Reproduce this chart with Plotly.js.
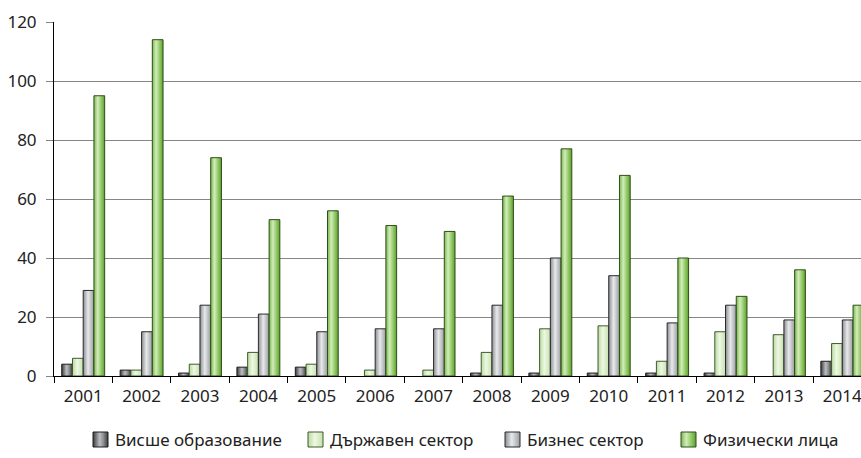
<!DOCTYPE html>
<html>
<head>
<meta charset="utf-8">
<script src="https://cdn.plot.ly/plotly-3.0.1.min.js"></script>
<style>
  html, body { margin: 0; padding: 0; background: #ffffff; }
  #chart { width: 861px; height: 458px; }
</style>
</head>
<body>
<div id="chart"></div>
<script>
// Years on the category axis
const years = ['2001', '2002', '2003', '2004', '2005', '2006', '2007',
               '2008', '2009', '2010', '2011', '2012', '2013', '2014'];

// Series names (legend)
const seriesNames = ['Висше образование', 'Държавен сектор', 'Бизнес сектор', 'Физически лица'];

// Values per series
const higherEducation = [4, 2, 1, 3, 3, 0, 0, 1, 1, 1, 1, 1, 0, 5];
const governmentSector = [6, 2, 4, 8, 4, 2, 2, 8, 16, 17, 5, 15, 14, 11];
const businessSector = [29, 15, 24, 21, 15, 16, 16, 24, 40, 34, 18, 24, 19, 19];
const individuals = [95, 114, 74, 53, 56, 51, 49, 61, 77, 68, 40, 27, 36, 24];

const seriesValues = [higherEducation, governmentSector, businessSector, individuals];

// Base fill (fallback) and outline colours per series
const fills = ['#8a8b8e', '#d8ecc6', '#c6c8cc', '#92c865'];
const outlines = ['#1e1e1e', '#3f5a2e', '#2a2a2a', '#2f4f1a'];

// Horizontal shading stops giving each bar a rounded, cylindrical look
const shading = [
  [[0, '#3c3c3e'], [0.45, '#bdbec1'], [0.7, '#8d8e91'], [1, '#3a3a3c']],
  [[0, '#b9dba0'], [0.45, '#eef7e4'], [1, '#c4e2ac']],
  [[0, '#8c8e92'], [0.45, '#e8e9eb'], [1, '#9a9ca0']],
  [[0, '#78b84a'], [0.35, '#d2ecbb'], [0.75, '#86c257'], [1, '#5f9d33']]
];

// Plot-area geometry in pixels, used to place the legend
const W = 861, H = 458;
const M = { l: 54, r: 0, t: 22, b: 82 };
const plotW = W - M.l - M.r, plotH = H - M.t - M.b;
const px2x = p => (p - M.l) / plotW;
const px2y = p => (H - M.b - p) / plotH;

// Legend swatch left edges (px) and vertical band
const legendLeft = [93, 308, 505, 681];
const swatchSize = 15;
const legendTop = 432;

const traces = seriesValues.map((vals, i) => ({
  type: 'bar',
  name: seriesNames[i],
  x: years,
  y: vals,
  marker: {
    color: fills[i],
    // no outline on empty (zero) bars
    line: { color: outlines[i], width: vals.map(v => (v === 0 ? 0 : 1)) }
  },
  hoverinfo: 'x+y+name'
}));

const shapes = legendLeft.map((lx, i) => ({
  type: 'rect',
  xref: 'paper', yref: 'paper',
  x0: px2x(lx), x1: px2x(lx + swatchSize),
  y0: px2y(legendTop + swatchSize), y1: px2y(legendTop),
  fillcolor: fills[i],
  line: { color: outlines[i], width: 1 },
  layer: 'above'
}));

const annotations = legendLeft.map((lx, i) => ({
  xref: 'paper', yref: 'paper',
  x: px2x(lx + swatchSize + 5),
  y: px2y(legendTop + swatchSize / 2),
  xanchor: 'left', yanchor: 'middle',
  text: seriesNames[i],
  showarrow: false,
  font: { size: 17, color: '#222222' }
}));

const layout = {
  width: W,
  height: H,
  margin: M,
  paper_bgcolor: '#ffffff',
  plot_bgcolor: '#ffffff',
  font: { family: 'Noto Sans, Open Sans, sans-serif', size: 17, color: '#222222' },
  barmode: 'group',
  bargap: 0.265,
  bargroupgap: 0,
  showlegend: false,
  shapes: shapes,
  annotations: annotations,
  xaxis: {
    type: 'category',
    range: [-0.5, 13.32],
    showline: true,
    linecolor: '#000000',
    linewidth: 1,
    ticks: 'outside',
    tickson: 'boundaries',
    ticklen: 6,
    tickcolor: '#000000',
    showgrid: false,
    zeroline: false,
    tickfont: { size: 17, color: '#222222' },
    ticklabelstandoff: 5
  },
  yaxis: {
    range: [0, 120],
    dtick: 20,
    showline: true,
    linecolor: '#000000',
    linewidth: 1,
    ticks: 'outside',
    ticklen: 7,
    tickcolor: '#868686',
    showgrid: true,
    gridcolor: '#868686',
    gridwidth: 1,
    zeroline: false,
    tickfont: { size: 17, color: '#222222' },
    ticklabelstandoff: 6
  }
};

// Adds one horizontal linear gradient per series to the chart's SVG
function addShadingDefs(svg) {
  const ns = 'http://www.w3.org/2000/svg';
  let defs = svg.querySelector('defs');
  if (!defs) { defs = document.createElementNS(ns, 'defs'); svg.insertBefore(defs, svg.firstChild); }
  shading.forEach((stops, i) => {
    const g = document.createElementNS(ns, 'linearGradient');
    g.setAttribute('id', 'barShade' + i);
    g.setAttribute('x1', '0'); g.setAttribute('y1', '0');
    g.setAttribute('x2', '1'); g.setAttribute('y2', '0');
    stops.forEach(([off, col]) => {
      const s = document.createElementNS(ns, 'stop');
      s.setAttribute('offset', off);
      s.setAttribute('stop-color', col);
      g.appendChild(s);
    });
    defs.appendChild(g);
  });
}

Plotly.newPlot('chart', traces, layout, { displayModeBar: false, staticPlot: true }).then(gd => {
  const svg = gd.querySelector('svg.main-svg');
  addShadingDefs(svg);
  gd.querySelectorAll('.barlayer .trace').forEach((tr, i) => {
    tr.querySelectorAll('.point path').forEach(p => { p.style.fill = 'url(#barShade' + i + ')'; });
  });
  const swatches = gd.querySelectorAll('.layer-above .shapelayer path');
  swatches.forEach((p, i) => { p.style.fill = 'url(#barShade' + (i % 4) + ')'; });
});
</script>
</body>
</html>
